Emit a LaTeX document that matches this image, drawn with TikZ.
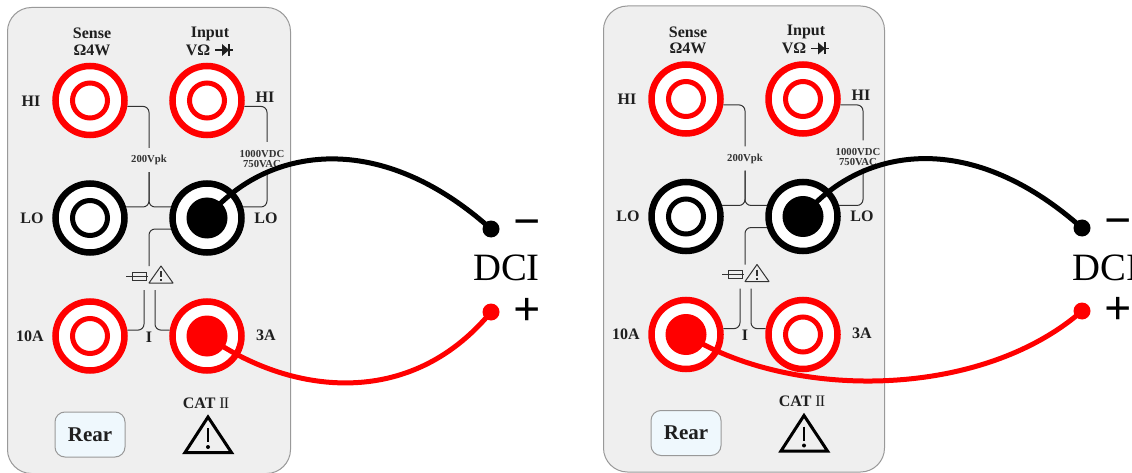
\documentclass[tikz,border=0pt]{standalone}
\usepackage{fontspec}
\setmainfont{Liberation Serif}
\usetikzlibrary{calc}
\definecolor{panelgray}{HTML}{EFEFEF}
\definecolor{rearblue}{HTML}{EFF8FD}
\definecolor{inkgray}{HTML}{333333}
\tikzset{jack/.style={circle,draw=#1,line width=6.5pt,fill=white,minimum size=69pt,inner sep=0pt}}
\tikzset{ring/.style={circle,draw=#1,line width=5pt,fill=white,minimum size=35pt,inner sep=0pt}}
\tikzset{plug/.style={circle,fill=#1,minimum size=41pt,inner sep=0pt}}
\tikzset{tip/.style={circle,fill=#1,minimum size=17pt,inner sep=0pt}}
\tikzset{cable/.style={draw=#1,line width=5pt}}
\tikzset{wire/.style={draw=inkgray,line width=1pt,rounded corners=6pt}}
\tikzset{l/.style={font=\fontsize{16}{16}\selectfont\bfseries,text=inkgray!60!black,inner sep=0pt}}
\tikzset{m/.style={font=\fontsize{10.7}{10.7}\selectfont\bfseries,text=inkgray,inner sep=0pt}}
\tikzset{big/.style={font=\fontsize{38.7}{38.7}\selectfont,inner sep=0pt}}
\tikzset{sign/.style={font=\fontsize{48}{48}\selectfont\bfseries,inner sep=0pt}}
\newcommand{\drawpanel}[6]{%
  \begin{scope}[shift={(#1,#2)},name prefix=#3-]
    \node [draw=gray!80,fill=panelgray,line width=1pt,rounded corners=24pt,minimum width=#4pt,minimum height=466pt,inner sep=0pt,anchor=north west] (body) at (7,7) {};
    \foreach \n/\x/\y/\c in {shi/90/100.5/red,ihi/207/100.5/red,slo/90/218/black,ilo/207/218/black,ten/90/336/red,three/207/336/red} {
      \node [jack=\c] (\n) at (\x,\y) {};
      \node [ring=\c] (\n-r) at (\x,\y) {};
    }
    \node [plug=black] (plugb) at (ilo) {};
    \node [plug=red] (plugr) at (#5) {};
    \node [l] (sense) at (92,33.5) {Sense};
    \node [l] (ohm) at (92,50) {Ω4W};
    \node [l] (input) at (210,33.5) {Input};
    \node [l] (volt) at (198,50) {VΩ};
    \node [l] (hil) at (31,101) {HI};
    \node [l] (hir) at (265,97) {HI};
    \node [l] (lol) at (32,218) {LO};
    \node [l] (lor) at (266,218) {LO};
    \node [l] (tena) at (30,336) {10A};
    \node [l] (threea) at (266,335) {3A};
    \node [l] (curr) at (149,337) {I};
    \node [l] (cat) at (206,403) {CAT {\fontseries{m}\selectfont I\kern-1pt I}};
    \node [m,minimum height=24pt] (vpk) at (149,160) {200Vpk};
    \node [m] (vdc) at (262,154) {1000VDC};
    \node [m] (vac) at (262,164) {750VAC};
    \node [draw=gray!80,fill=rearblue,line width=1pt,rounded corners=10pt,minimum width=70pt,minimum height=45pt,inner sep=0pt,font=\fontsize{21}{21}\selectfont\bfseries,text=inkgray!60!black] (rear) at (90,434.5) {Rear};
    \coordinate (vdctop) at (267,142);
    \coordinate (vacbot) at (267,170);
    \coordinate (fusein) at (149,266);
    \coordinate (tenup) at (144,290);
    \coordinate (threeup) at (155,290);
    \path [wire] (shi.-9) -| (vpk.north);
    \path [wire] (vpk.south) |- (slo.17);
    \path [wire] (vpk.south) |- (ilo.163);
    \path [wire] (ihi.-9) -| (vdctop);
    \path [wire] (vacbot) |- (ilo.17);
    \path [wire] (ilo.197) -| (fusein);
    \path [wire] (tenup) |- (ten.9);
    \path [wire] (threeup) |- (three.171);
    \draw [inkgray,line width=1pt] (126,276) -- (148,276) (132,272) rectangle (146,280);
    \draw [inkgray,line width=1pt,line join=round] (149,283) -- (161,266) -- (173,283) -- cycle;
    \draw [inkgray,line width=1.2pt] (161,271) -- (161,277) (161,279) -- (161,281);
    \draw [black,line width=3pt,line join=miter] (185,452.5) -- (208,417) -- (231.5,452.5) -- cycle;
    \draw [black,line width=2.5pt] (208,428) -- (208,442);
    \fill [black] (208,447) circle (2pt);
    \draw [inkgray!60!black,line width=1.5pt] (215,50) -- (233,50) (229,44) -- (229,56);
    \fill [inkgray!60!black] (222,44) -- (229,50) -- (222,56) -- cycle;
  \end{scope}}
\begin{document}
\begin{tikzpicture}[x=1pt,y=-1pt]
  \useasboundingbox (0,0) rectangle (1132,473);
  \drawpanel{0}{0}{L}{283}{three}{}
  \drawpanel{596}{-1.5}{R}{281}{ten}{}
  \node [tip=black] (Lneg) at (491,229) {};
  \node [tip=red] (Lpos) at (491,312) {};
  \node [tip=black] (Rneg) at (1082,228) {};
  \node [tip=red] (Rpos) at (1082,311) {};
  \node [big] (Ldci) at (506.5,268) {DCI};
  \node [big] (Rdci) at (1106,268) {DCI};
  \node [sign] (Lminus) at (527,229) {−};
  \node [sign] (Lplus) at (527,312) {+};
  \node [sign] (Rminus) at (1118,228) {−};
  \node [sign] (Rplus) at (1118,311) {+};
  \draw [cable=black] (L-plugb.center) .. controls (262,150) and (375,125) .. (Lneg.center);
  \draw [cable=red] (L-plugr.center) .. controls (290,395) and (410,410) .. (Lpos.center);
  \draw [cable=black] (R-plugb.center) .. controls (858,150) and (966,125) .. (Rneg.center);
  \draw [cable=red] (R-plugr.center) .. controls (790,400) and (980,400) .. (Rpos.center);
\end{tikzpicture}
\end{document}
